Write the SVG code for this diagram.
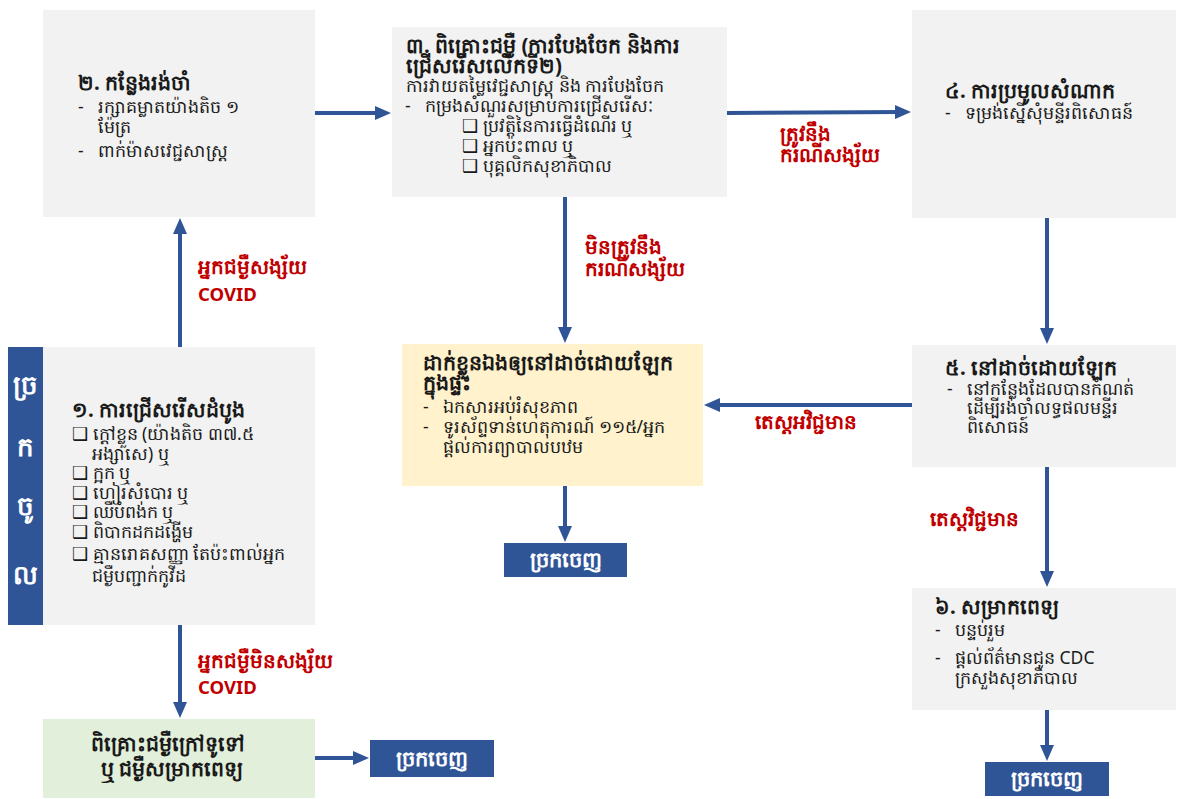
<svg xmlns="http://www.w3.org/2000/svg" width="1182" height="799" viewBox="0 0 1182 799">
<defs>
<marker id="ah" markerWidth="16" markerHeight="14" refX="8" refY="7" orient="auto" markerUnits="userSpaceOnUse" viewBox="0 0 16 14">
<path d="M0,0 L16,7 L0,14 z" fill="#2f5597"/>
</marker>
<style>
.box{fill:#f2f2f2}
.t{font-family:"Noto Sans","Liberation Sans",sans-serif;font-size:17.5px;fill:#1a1a1a}
.b{font-weight:bold;font-size:20.5px}
.r{font-family:"Noto Sans","Liberation Sans",sans-serif;font-size:20px;font-weight:bold;fill:#c00000}
.cv{font-size:18.5px}
.w{font-family:"Noto Sans","Liberation Sans",sans-serif;font-size:21px;font-weight:bold;fill:#ffffff}
.e{font-size:26px}
.exit{fill:#2f5597}
.c{stroke:#2f5597;stroke-width:4;fill:none;marker-end:url(#ah)}
</style>
</defs>
<rect width="1182" height="799" fill="#ffffff"/>

<g id="connectors">
<line class="c" x1="180" y1="347" x2="180" y2="226"/>
<line class="c" x1="315" y1="113" x2="383" y2="113"/>
<line class="c" x1="727" y1="113" x2="903" y2="112"/>
<line class="c" x1="565" y1="197" x2="565" y2="335"/>
<line class="c" x1="1047" y1="218" x2="1047" y2="336"/>
<line class="c" x1="912" y1="405" x2="712" y2="405"/>
<line class="c" x1="1047" y1="467" x2="1047" y2="579"/>
<line class="c" x1="1047" y1="710" x2="1047" y2="753"/>
<line class="c" x1="565" y1="486" x2="565" y2="534"/>
<line class="c" x1="180" y1="625" x2="180" y2="710"/>
<line class="c" x1="315" y1="758" x2="361" y2="758"/>
<text class="r" x="198" y="274">អ្នកជម្ងឺសង្ស័យ</text>
<text class="r cv" x="198" y="301">COVID</text>
<text class="r" x="780" y="141">ត្រូវនឹង</text>
<text class="r" x="780" y="162">ករណីសង្ស័យ</text>
<text class="r" x="585" y="254">មិនត្រូវនឹង</text>
<text class="r" x="585" y="276">ករណីសង្ស័យ</text>
<text class="r" x="755" y="429">តេស្តអវិជ្ជមាន</text>
<text class="r" x="930" y="526">តេស្តវិជ្ជមាន</text>
<text class="r" x="198" y="668">អ្នកជម្ងឺមិនសង្ស័យ</text>
<text class="r cv" x="198" y="694">COVID</text>
</g>

<g id="node2">
<rect class="box" x="43" y="10" width="272" height="207"/>
<text class="t b" x="78" y="90">២. កន្លែងរង់ចាំ</text>
<text class="t" x="78" y="113">-</text>
<text class="t" x="98" y="113">រក្សាគម្លាតយ៉ាងតិច ១</text>
<text class="t" x="98" y="133">ម៉ែត្រ</text>
<text class="t" x="78" y="157">-</text>
<text class="t" x="98" y="157">ពាក់ម៉ាសវេជ្ជសាស្ត្រ</text>
</g>

<g id="node3">
<rect class="box" x="392" y="27" width="335" height="170"/>
<text class="t b" x="406" y="53">៣. ពិគ្រោះជម្ងឺ (ការបែងចែក និងការ</text>
<text class="t b" x="406" y="73">ជ្រើសរើសលើកទី២)</text>
<text class="t" x="406" y="92">ការវាយតម្លៃវេជ្ជសាស្ត្រ និង ការបែងចែក</text>
<text class="t" x="405" y="112">-</text>
<text class="t" x="425" y="112">កម្រងសំណួរសម្រាប់ការជ្រើសរើសៈ</text>
<text class="t" x="462" y="132">❑ ប្រវត្តិនៃការធ្វើដំណើរ ឬ</text>
<text class="t" x="462" y="152">❑ អ្នកប៉ះពាល ឬ</text>
<text class="t" x="462" y="172">❑ បុគ្គលិកសុខាភិបាល</text>
</g>

<g id="node4">
<rect class="box" x="912" y="10" width="264" height="208"/>
<text class="t b" x="945" y="98">៤. ការប្រមូលសំណាក</text>
<text class="t" x="945" y="119">-</text>
<text class="t" x="965" y="119">ទម្រង់ស្នើសុំមន្ទីរពិសោធន៍</text>
</g>

<g id="node5">
<rect class="box" x="912" y="345" width="264" height="122"/>
<text class="t b" x="945" y="375">៥. នៅដាច់ដោយឡែក</text>
<text class="t" x="947" y="395">-</text>
<text class="t" x="967" y="395">នៅកន្លែងដែលបានកំណត់</text>
<text class="t" x="967" y="414">ដើម្បីរង់ចាំលទ្ធផលមន្ទីរ</text>
<text class="t" x="967" y="433">ពិសោធន៍</text>
</g>

<g id="node6">
<rect class="box" x="912" y="588" width="264" height="122"/>
<text class="t b" x="935" y="614">៦. សម្រាកពេទ្យ</text>
<text class="t" x="935" y="636">-</text>
<text class="t" x="955" y="636">បន្ទប់រួម</text>
<text class="t" x="935" y="664">-</text>
<text class="t" x="955" y="664">ផ្តល់ព័ត៌មានជូន CDC</text>
<text class="t" x="955" y="684">ក្រសួងសុខាភិបាល</text>
</g>

<g id="node1">
<rect class="box" x="43" y="347" width="272" height="278"/>
<text class="t b" x="72" y="417">១. ការជ្រើសរើសដំបូង</text>
<text class="t" x="72" y="440">❑ ក្តៅខ្លួន (យ៉ាងតិច ៣៧.៥</text>
<text class="t" x="92" y="460">អង្សាសេ) ឬ</text>
<text class="t" x="72" y="479">❑ ក្អក ឬ</text>
<text class="t" x="72" y="499">❑ ហៀរសំបោរ ឬ</text>
<text class="t" x="72" y="518">❑ ឈឺបំពង់ក ឬ</text>
<text class="t" x="72" y="538">❑ ពិបាកដកដង្ហើម</text>
<text class="t" x="72" y="560">❑ គ្មានរោគសញ្ញា តែប៉ះពាល់អ្នក</text>
<text class="t" x="92" y="582">ជម្ងឺបញ្ជាក់កូវីដ</text>
</g>

<g id="entry">
<rect class="exit" x="8" y="347" width="35" height="278"/>
<text class="w e" x="25.5" y="394" text-anchor="middle">ច្រ</text>
<text class="w e" x="25.5" y="456" text-anchor="middle">ក</text>
<text class="w e" x="25.5" y="515" text-anchor="middle">ចូ</text>
<text class="w e" x="25.5" y="584" text-anchor="middle">ល</text>
</g>

<g id="node-home">
<rect x="402" y="344" width="301" height="142" fill="#fff2cc"/>
<text class="t b" x="423" y="370">ដាក់ខ្លួនឯងឲ្យនៅដាច់ដោយឡែក</text>
<text class="t b" x="423" y="390">ក្នុងផ្ទះ</text>
<text class="t" x="423" y="413">-</text>
<text class="t" x="443" y="413">ឯកសារអប់រំសុខភាព</text>
<text class="t" x="423" y="433">-</text>
<text class="t" x="443" y="433">ទូរស័ព្ទទាន់ហេតុការណ៍ ១១៥/អ្នក</text>
<text class="t" x="443" y="453">ផ្តល់ការព្យាបាលបឋម</text>
</g>

<g id="node-opd">
<rect x="43" y="719" width="272" height="79" fill="#e2efda"/>
<text class="t b" x="168" y="751" text-anchor="middle">ពិគ្រោះជម្ងឺក្រៅទូទៅ</text>
<text class="t b" x="172" y="776" text-anchor="middle">ឬ ជម្ងឺសម្រាកពេទ្យ</text>
</g>

<g id="exit1">
<rect class="exit" x="504" y="543" width="123" height="34"/>
<text class="w" x="565.5" y="567" text-anchor="middle">ច្រកចេញ</text>
</g>
<g id="exit2">
<rect class="exit" x="370" y="740" width="124" height="37"/>
<text class="w" x="432" y="766" text-anchor="middle">ច្រកចេញ</text>
</g>
<g id="exit3">
<rect class="exit" x="985" y="762" width="124" height="34"/>
<text class="w" x="1047" y="786" text-anchor="middle">ច្រកចេញ</text>
</g>
</svg>
